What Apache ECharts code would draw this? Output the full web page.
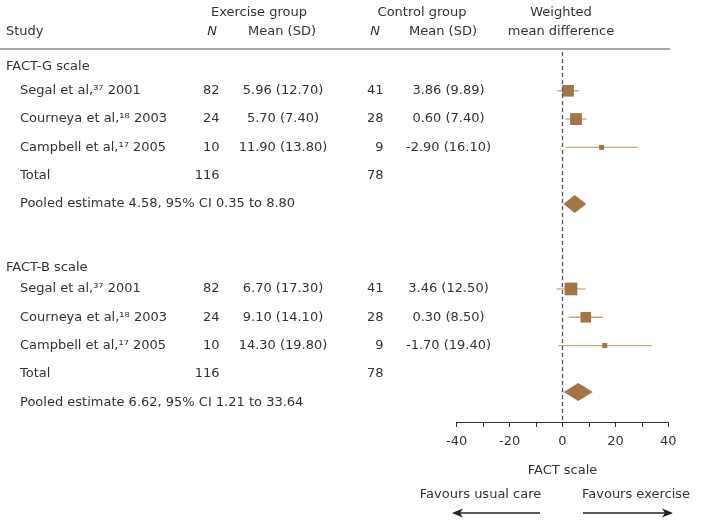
<!DOCTYPE html>
<html>
<head>
<meta charset="utf-8">
<script src="https://cdn.jsdelivr.net/npm/echarts@6/dist/echarts.min.js"></script>
<style>
html,body{margin:0;padding:0;background:#fff;}
#chart{width:711px;height:526px;}
</style>
</head>
<body>
<div id="chart"></div>
<script>
// ---------- data ----------
const scales = ['FACT-G scale', 'FACT-B scale'];
const studies = ['Segal et al,³⁷ 2001', 'Courneya et al,¹⁸ 2003', 'Campbell et al,¹⁷ 2005'];
const exN = [82, 24, 10];
const ctN = [41, 28, 9];
const exTotal = [116, 116];
const ctTotal = [78, 78];
// FACT-G
const gExMean = [5.96, 5.70, 11.90];
const gExSD = [12.70, 7.40, 13.80];
const gCtMean = [3.86, 0.60, -2.90];
const gCtSD = [9.89, 7.40, 16.10];
const gWMD = [2.1, 5.1, 14.8];
const gLo = [-2.0, 1.1, 1.3];
const gHi = [6.2, 9.1, 28.4];
const gWeight = [47, 48, 4];
// FACT-B
const bExMean = [6.70, 9.10, 14.30];
const bExSD = [17.30, 14.10, 19.80];
const bCtMean = [3.46, 0.30, -1.70];
const bCtSD = [12.50, 8.50, 19.40];
const bWMD = [3.2, 8.8, 16.0];
const bLo = [-2.2, 2.3, -1.6];
const bHi = [8.7, 15.3, 33.8];
const bWeight = [56, 39, 5];
// pooled (as printed)
const pooledEst = [4.58, 6.62];
const pooledLo = [0.35, 1.21];
const pooledHi = [8.80, 33.64];
// pooled diamonds (as drawn)
const diamondLo = [0.4, 0.5];
const diamondMid = [4.6, 5.9];
const diamondHi = [9.0, 11.5];
const xTickLabels = [-40, -20, 0, 20, 40];

// ---------- layout ----------
const FONT = '"DejaVu Sans", sans-serif';
const FS = 13;
const TXT = '#333333';
const BOX = '#a47445';
const CI = '#c9a682';
// row indices (vertical layout)
const groupHeaderRow = [0.13, 7.23];
const groupFirstRow = [1, 8];
const diamondRow = [5, 11.64];
const col = {study: 6, sub: 20, exN: 219.5, exMSD: 283, ctN: 383.5, ctMSD: 448.5};

const groups = [
  {exMean: gExMean, exSD: gExSD, ctMean: gCtMean, ctSD: gCtSD, wmd: gWMD, lo: gLo, hi: gHi, w: gWeight},
  {exMean: bExMean, exSD: bExSD, ctMean: bCtMean, ctSD: bCtSD, wmd: bWMD, lo: bLo, hi: bHi, w: bWeight}
];

const f2 = v => v.toFixed(2);

// table text rows
const tableRows = [];
const studyMarks = [];
const diamonds = [];
groups.forEach((g, gi) => {
  tableRows.push({row: groupHeaderRow[gi], cells: [{text: scales[gi], x: col.study, align: 'left'}]});
  studies.forEach((s, si) => {
    const r = groupFirstRow[gi] + si;
    tableRows.push({row: r, cells: [
      {text: s, x: col.sub, align: 'left'},
      {text: String(exN[si]), x: col.exN, align: 'right'},
      {text: f2(g.exMean[si]) + ' (' + f2(g.exSD[si]) + ')', x: col.exMSD, align: 'center'},
      {text: String(ctN[si]), x: col.ctN, align: 'right'},
      {text: f2(g.ctMean[si]) + ' (' + f2(g.ctSD[si]) + ')', x: col.ctMSD, align: 'center'}
    ]});
    studyMarks.push([g.wmd[si], r, g.lo[si], g.hi[si], g.w[si]]);
  });
  const tr = groupFirstRow[gi] + 3;
  tableRows.push({row: tr, cells: [
    {text: 'Total', x: col.sub, align: 'left'},
    {text: String(exTotal[gi]), x: col.exN, align: 'right'},
    {text: String(ctTotal[gi]), x: col.ctN, align: 'right'}
  ]});
  tableRows.push({row: tr + 1, cells: [
    {text: 'Pooled estimate ' + f2(pooledEst[gi]) + ', 95% CI ' + f2(pooledLo[gi]) + ' to ' + f2(pooledHi[gi]), x: col.sub, align: 'left'}
  ]});
  diamonds.push([diamondMid[gi], diamondRow[gi], diamondLo[gi], diamondHi[gi]]);
});

const chart = echarts.init(document.getElementById('chart'), null, {renderer: 'canvas'});

const txt = (text, x, y, align, italic) => ({
  type: 'text',
  style: {text, x, y, align, verticalAlign: 'middle', font: (italic ? 'italic ' : '') + FS + 'px ' + FONT, fill: TXT}
});

chart.setOption({
  animation: false,
  backgroundColor: '#fff',
  grid: {left: 456.7, right: 42.7, top: 52, bottom: 104, containLabel: false},
  xAxis: {
    type: 'value', min: -40, max: 40, interval: 10,
    axisLine: {show: true, onZero: false, lineStyle: {color: '#333', width: 1}},
    axisTick: {show: true, length: 5, lineStyle: {color: '#333'}},
    splitLine: {show: false},
    axisLabel: {
      margin: 13, color: TXT, fontSize: FS, fontFamily: FONT,
      formatter: v => xTickLabels.indexOf(v) >= 0 ? String(v) : ''
    },
    name: 'FACT scale', nameLocation: 'middle', nameGap: 42,
    nameTextStyle: {color: TXT, fontSize: FS, fontFamily: FONT}
  },
  yAxis: {type: 'value', inverse: true, min: -0.37, max: 12.70, show: false},
  series: [
    {
      type: 'custom',
      name: 'table',
      silent: true,
      data: tableRows.map(r => [0, r.row]),
      renderItem: (params, api) => {
        const r = tableRows[params.dataIndex];
        const y = api.coord([0, r.row])[1];
        return {type: 'group', children: r.cells.map(c => txt(c.text, c.x, y, c.align))};
      }
    },
    {
      type: 'custom',
      name: 'studies',
      silent: true,
      data: studyMarks,
      renderItem: (params, api) => {
        const c = api.coord([api.value(0), api.value(1)]);
        const l = api.coord([api.value(2), api.value(1)]);
        const h = api.coord([api.value(3), api.value(1)]);
        const s = Math.max(5, 1.7 * Math.sqrt(api.value(4)));
        return {type: 'group', children: [
          {type: 'line', shape: {x1: l[0], y1: c[1], x2: h[0], y2: c[1]}, style: {stroke: CI, lineWidth: 1.3}},
          {type: 'rect', shape: {x: c[0] - s / 2, y: c[1] - s / 2, width: s, height: s}, style: {fill: BOX}}
        ]};
      },
      markLine: {
        silent: true, symbol: 'none', label: {show: false},
        lineStyle: {color: '#555', type: [4, 3], width: 1.3},
        data: [{xAxis: 0}]
      }
    },
    {
      type: 'custom',
      name: 'pooled',
      silent: true,
      data: diamonds,
      renderItem: (params, api) => {
        const c = api.coord([api.value(0), api.value(1)]);
        const l = api.coord([api.value(2), api.value(1)]);
        const h = api.coord([api.value(3), api.value(1)]);
        const hh = 9;
        return {type: 'polygon', shape: {points: [[l[0], c[1]], [c[0], c[1] - hh], [h[0], c[1]], [c[0], c[1] + hh]]}, style: {fill: BOX}};
      }
    }
  ],
  graphic: [
    txt('Exercise group', 259, 13, 'center'),
    txt('Control group', 422, 13, 'center'),
    txt('Weighted', 561, 13, 'center'),
    txt('Study', 6, 32, 'left'),
    txt('N', 212, 32, 'center', true),
    txt('Mean (SD)', 282, 32, 'center'),
    txt('N', 375, 32, 'center', true),
    txt('Mean (SD)', 443, 32, 'center'),
    txt('mean difference', 561, 32, 'center'),
    {type: 'line', shape: {x1: 0, y1: 49, x2: 670, y2: 49}, style: {stroke: '#8a8a8a', lineWidth: 1.5}},
    txt('Favours usual care', 480.5, 495, 'center'),
    txt('Favours exercise', 636, 495, 'center'),
    {type: 'line', shape: {x1: 458, y1: 513, x2: 540, y2: 513}, style: {stroke: '#222', lineWidth: 1.5}},
    {type: 'polygon', shape: {points: [[452, 513], [463, 508.5], [460, 513], [463, 517.5]]}, style: {fill: '#222'}},
    {type: 'line', shape: {x1: 583, y1: 513, x2: 667, y2: 513}, style: {stroke: '#222', lineWidth: 1.5}},
    {type: 'polygon', shape: {points: [[673, 513], [662, 508.5], [665, 513], [662, 517.5]]}, style: {fill: '#222'}}
  ]
});
</script>
</body>
</html>
